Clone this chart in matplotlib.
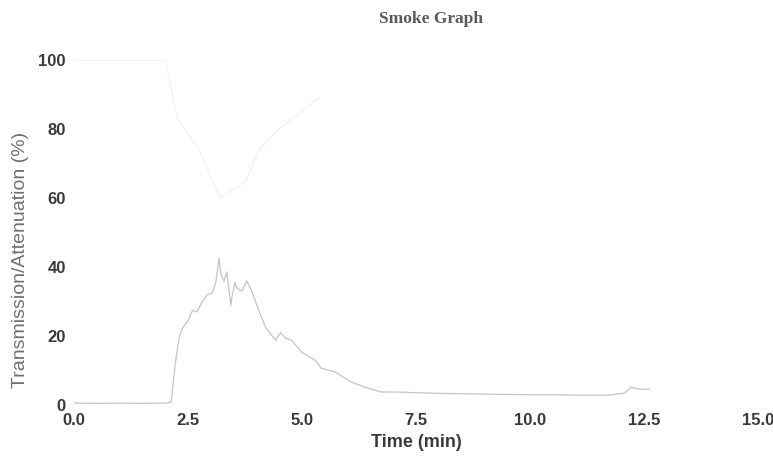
import numpy as np
from matplotlib import pyplot as plt

plt.rcParams['font.family'] = ['Liberation Sans', 'DejaVu Sans']

# smoke attenuation (%)
att_time = [0.0, 0.5, 1.0, 1.5, 2.0, 2.13, 2.22, 2.31, 2.38, 2.5, 2.6, 2.7, 2.81, 2.92,
            3.03, 3.11, 3.18, 3.22, 3.29, 3.35, 3.44, 3.46, 3.53, 3.57, 3.68, 3.79,
            3.9, 4.05, 4.2, 4.42, 4.53, 4.64, 4.77, 4.99, 5.29, 5.42, 5.73, 6.08,
            6.38, 6.73, 7.1, 7.5, 8.0, 8.5, 9.0, 9.5, 10.0, 10.5, 11.0, 11.5, 11.74,
            12.07, 12.22, 12.4, 12.6]
att_val = [0.6, 0.5, 0.6, 0.5, 0.6, 0.8, 12.0, 19.7, 22.3, 24.5, 27.5, 27.0, 30.0, 32.0,
           32.5, 35.6, 42.6, 38.0, 36.0, 38.6, 29.0, 31.0, 35.6, 34.0, 33.0, 36.0,
           33.0, 27.5, 22.6, 18.8, 21.0, 19.4, 18.8, 15.4, 13.0, 10.7, 9.6, 6.7,
           5.2, 3.8, 3.8, 3.6, 3.4, 3.3, 3.2, 3.1, 3.0, 3.0, 2.9, 2.9, 2.9,
           3.5, 5.2, 4.6, 4.6]

# light transmission (%) - only faintly visible on the scan
tr_time = [0.0, 1.0, 2.0, 2.27, 2.75, 3.2, 3.77, 4.05, 4.49, 5.03, 5.36]
tr_val = [100, 100, 100, 83, 74, 60, 65, 74, 80, 85.5, 89]

fig = plt.figure(figsize=(7.73, 4.63), dpi=100)
ax = fig.add_axes([0.0957, 0.125, 0.885, 0.745])

ax.plot(tr_time, tr_val, color='#f0f0f0', lw=0.8)
ax.plot(att_time, att_val, color='#c4c4c4', lw=0.9)

ax.set_xlim(0, 15)
ax.set_ylim(0, 100)
ax.set_xticks(np.arange(0, 15.1, 2.5))
ax.set_xticklabels(["{:.1f}".format(v) for v in np.arange(0, 15.1, 2.5)])
ax.set_yticks([0, 20, 40, 60, 80, 100])
for s in ax.spines.values():
    s.set_visible(False)
ax.tick_params(length=0, labelsize=12, labelcolor='#3a3a3a', pad=6)
for lab in ax.get_xticklabels() + ax.get_yticklabels():
    lab.set_fontweight('bold')

ax.set_xlabel("Time (min)", fontsize=13, color='#3a3a3a', fontweight='bold', labelpad=4)
ax.set_ylabel("Transmission/Attenuation (%)", fontsize=14, color='#707070')
ax.yaxis.set_label_coords(-0.066, 0.42)
fig.text(0.558, 0.958, "Smoke Graph", family='Liberation Serif', fontsize=12.5,
         fontweight='bold', color='#5a5a5a', ha='center', va='center')

plt.savefig('out.png', dpi=100)
